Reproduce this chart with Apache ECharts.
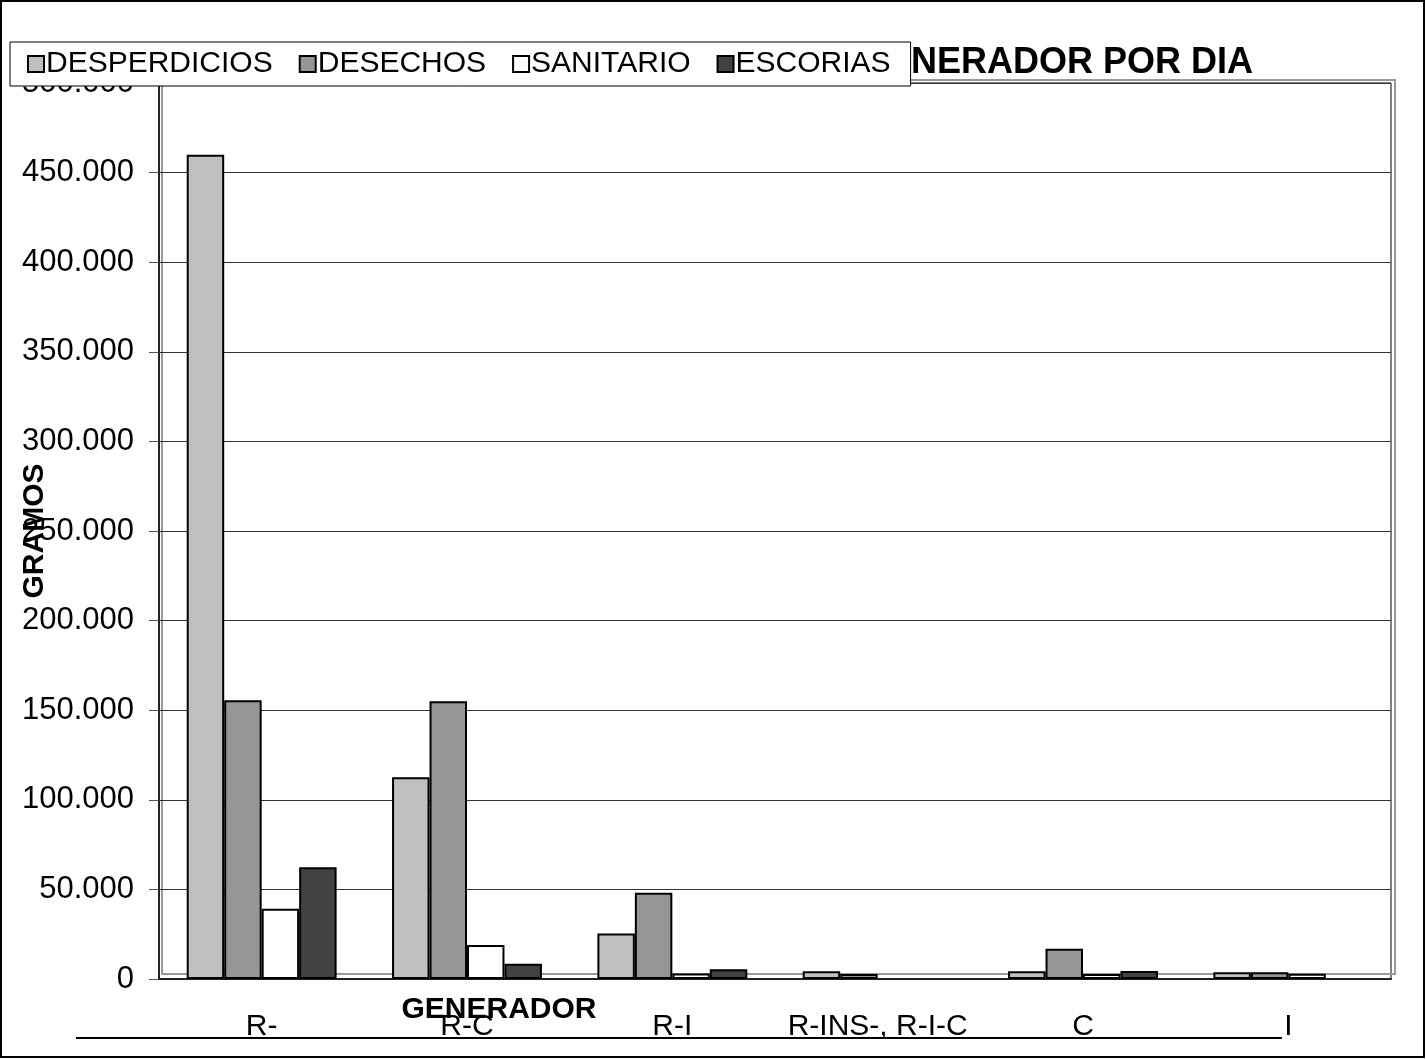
<!DOCTYPE html>
<html>
<head>
<meta charset="utf-8">
<title>GENERADOR POR DIA</title>
<script src="https://cdn.jsdelivr.net/npm/echarts@6/dist/echarts.min.js"></script>
<style>
  html, body { margin: 0; padding: 0; background: #fff; overflow: hidden; }
  #chart { width: 1426px; height: 1060px; }
</style>
</head>
<body>
<div id="chart"></div>
<script>
// generators on the x axis
const categories = ['R-', 'R-C', 'R-I', 'R-INS-, R-I-C', 'C', 'I'];

// grams per day
const desperdicios = [460000, 112600, 25400, 4300, 4300, 3700];
const desechos = [155500, 155000, 48100, 2800, 16900, 3700];
const sanitario = [39200, 19000, 3000, 0, 2800, 2900];
const escorias = [62400, 8500, 5400, 0, 4400, 0];

const seriesNames = ['DESPERDICIOS', 'DESECHOS', 'SANITARIO', 'ESCORIAS'];
const seriesColors = ['#c0c0c0', '#969696', '#ffffff', '#424242'];

const font = "'Liberation Sans', Arial, sans-serif";

function fmt(v) {
  return String(v).replace(/\B(?=(\d{3})+(?!\d))/g, '.');
}

const chart = echarts.init(document.getElementById('chart'), null, { renderer: 'canvas' });

let option = {
  backgroundColor: '#fff',
  animation: false,
  title: {
    text: 'RESIDUOS POR GENERADOR POR DIA',
    right: 168,
    top: 40,
    textStyle: { fontFamily: font, fontSize: 36, fontWeight: 'bold', color: '#000' }
  },
  legend: {
    left: 10,
    top: 42,
    z: 20,
    padding: [7, 20, 7, 17],
    itemGap: 26,
    itemWidth: 16,
    itemHeight: 16,
    icon: 'rect',
    backgroundColor: '#fff',
    borderColor: '#000',
    borderWidth: 1,
    textStyle: { fontFamily: font, fontSize: 30, color: '#000', padding: [0, 0, 0, -3] },
    data: seriesNames
  },
  grid: {
    left: 159,
    top: 83,
    right: 35,
    bottom: 81,
    outerBoundsMode: 'none',
    containLabel: false,
    show: true,
    borderColor: '#000',
    borderWidth: 1,
    backgroundColor: 'transparent'
  },
  xAxis: {
    type: 'category',
    data: categories,
    name: 'GENERADOR',
    nameLocation: 'middle',
    nameGap: 16,
    nameMoveOverlap: false,
    nameTextStyle: {
      fontFamily: font, fontSize: 30, fontWeight: 'bold', color: '#000',
      padding: [0, 552, 0, 0]
    },
    axisLine: { lineStyle: { color: '#222', width: 2 } },
    axisTick: { length: 10, lineStyle: { color: '#555' } },
    axisLabel: { margin: 33, fontFamily: font, fontSize: 30, color: '#000', interval: 0 }
  },
  yAxis: {
    type: 'value',
    min: 0,
    max: 500000,
    interval: 50000,
    name: 'GRAMOS',
    nameLocation: 'middle',
    nameGap: 109,
    nameMoveOverlap: false,
    nameTextStyle: { fontFamily: font, fontSize: 30, fontWeight: 'bold', color: '#000' },
    axisLine: { show: true, lineStyle: { color: '#222', width: 2 } },
    axisTick: { show: true, length: 10, lineStyle: { color: '#555' } },
    axisLabel: { margin: 25, fontFamily: font, fontSize: 31, color: '#000', formatter: fmt },
    splitLine: { lineStyle: { color: '#333', width: 1 } }
  },
  graphic: [
    {
      type: 'rect',
      z: 0,
      shape: { x: 1, y: 1, width: 1423, height: 1056 },
      style: { fill: 'none', stroke: '#000', lineWidth: 2 }
    },
    {
      type: 'rect',
      z: 0,
      shape: { x: 162, y: 80, width: 1233, height: 894 },
      style: { fill: 'none', stroke: '#999', lineWidth: 2 }
    },
    {
      type: 'line',
      z: 0,
      shape: { x1: 76, y1: 1038, x2: 1282, y2: 1038 },
      style: { stroke: '#000', lineWidth: 2 }
    }
  ],
  series: []
};

const values = [desperdicios, desechos, sanitario, escorias];
option.series = seriesNames.map((name, i) => {
  return {
    name: name,
    type: 'bar',
    // zero bars are not drawn in the original
    data: values[i].map(v => (v === 0 ? '-' : v)),
    barGap: '0%',
    barCategoryGap: '27%',
    itemStyle: { color: seriesColors[i], borderColor: '#000', borderWidth: 2 }
  };
});

chart.setOption(option);
</script>
</body>
</html>
